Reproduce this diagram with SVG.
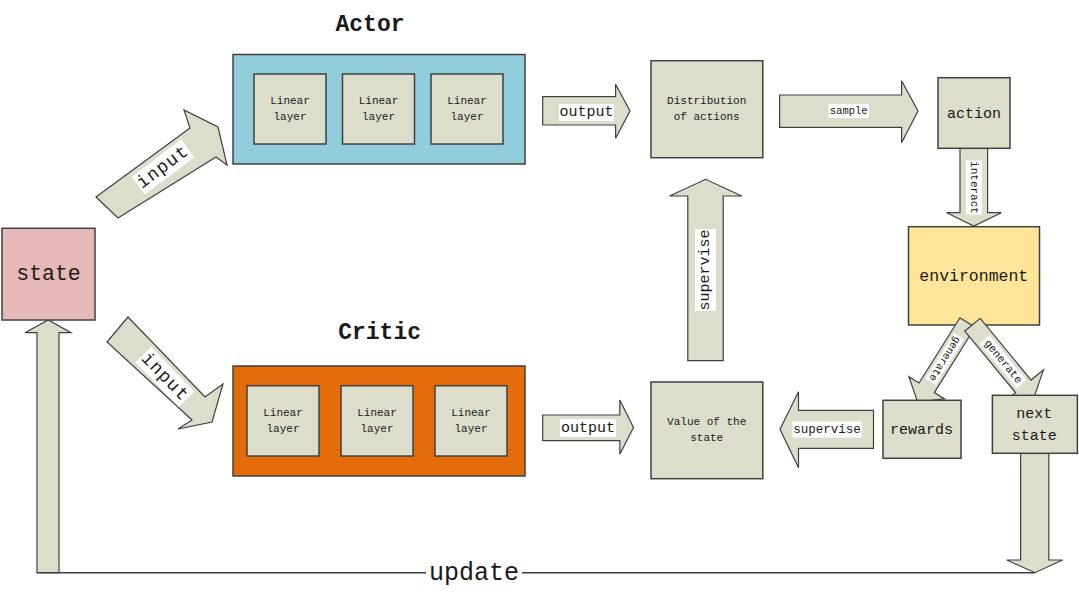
<svg xmlns="http://www.w3.org/2000/svg" width="1079" height="602" viewBox="0 0 1079 602">
<style>
  .box{fill:#dcdecb;stroke:#404040;stroke-width:1.5}
  .arr{fill:#dcdecb;stroke:#404040;stroke-width:1.2;stroke-linejoin:miter}
  .bg{fill:#ffffff}
  text{font-family:"Liberation Mono",monospace;fill:#1a1a1a;text-anchor:middle;dominant-baseline:central}
  .title{font-weight:bold;font-size:23px;dominant-baseline:alphabetic}
  .s11{font-size:11px}
  .s15{font-size:15px}
</style>
<rect x="0" y="0" width="1079" height="602" fill="#ffffff"/>

<!-- connectors -->
<g id="connectors">
  <!-- update loop -->
  <line x1="37" y1="572.7" x2="1035" y2="572.7" stroke="#404040" stroke-width="1.5"/>
  <rect class="bg" x="426" y="558" width="96" height="28"/>
  <text x="474" y="573" style="font-size:25px">update</text>
  <polygon class="arr" points="37,572.7 37,332.7 25,332.7 48.3,320 71,332.7 59,332.7 59,572.7"/>
  <polygon class="arr" points="1020.6,453 1020.6,560 1006.8,560 1035,572.7 1062.5,560 1048.8,560 1048.8,453"/>

  <!-- input arrows -->
  <polygon class="arr" points="96,197 190,128 184,110 218,127 227,165 216,157 118,218"/>
  <g transform="translate(163,167) rotate(-37)">
    <rect class="bg" x="-31" y="-11" width="62" height="22"/>
    <text x="0" y="0" style="font-size:18px;letter-spacing:1.2px">input</text>
  </g>
  <polygon class="arr" points="128,317 205,397 223,384 212,422 178,429 192,420 107,342"/>
  <g transform="translate(165,377) rotate(46)">
    <rect class="bg" x="-31" y="-11" width="62" height="22"/>
    <text x="0" y="0" style="font-size:18px;letter-spacing:1.2px">input</text>
  </g>

  <!-- output arrows -->
  <polygon class="arr" points="542.7,96.7 615.6,96.7 615.6,84.3 630,111 615.6,138.3 615.6,125 542.7,125"/>
  <rect class="bg" x="559" y="104" width="55" height="17"/>
  <text class="s15" x="586.5" y="112">output</text>
  <polygon class="arr" points="542.7,415 619.8,415 619.8,400 633.5,427.5 619.8,454.3 619.8,440.7 542.7,440.7"/>
  <rect class="bg" x="560" y="419" width="56" height="18"/>
  <text class="s15" x="588" y="428">output</text>

  <!-- sample -->
  <polygon class="arr" points="779.6,95 901.6,95 901.6,80.7 918,111 901.6,142.7 901.6,127.3 779.6,127.3"/>
  <rect class="bg" x="828.5" y="104" width="40.5" height="14"/>
  <text x="848.7" y="111" style="font-size:10.5px">sample</text>

  <!-- interact -->
  <polygon class="arr" points="960,148.3 960,212.7 946.7,212.7 973.8,226 1001.3,212.7 987.6,212.7 987.6,148.3"/>
  <g transform="translate(974,187.5) rotate(90)">
    <rect class="bg" x="-27" y="-8" width="54" height="16"/>
    <text class="s11" x="0" y="0">interact</text>
  </g>

  <!-- supervise up -->
  <polygon class="arr" points="687.8,360.7 687.8,196 669.6,196 705.7,179.3 741.8,196 723.2,196 723.2,360.7"/>
  <g transform="translate(705.5,270) rotate(-90)">
    <rect class="bg" x="-41" y="-10.5" width="82" height="21"/>
    <text class="s15" x="0" y="0">supervise</text>
  </g>

  <!-- supervise left -->
  <polygon class="arr" points="873.5,410.3 798.5,410.3 798.5,391.7 780,429.3 798.5,467.7 798.5,448.3 873.5,448.3"/>
  <rect class="bg" x="792.5" y="421.5" width="69" height="16"/>
  <text x="827" y="429.5" style="font-size:12.5px">supervise</text>
</g>

<!-- nodes -->
<g id="actor-title"><text class="title" x="370" y="31">Actor</text></g>
<g id="critic-title"><text class="title" x="379.6" y="339">Critic</text></g>

<g id="actor">
  <rect x="233" y="54.5" width="292" height="109.5" fill="#92cddc" stroke="#404040" stroke-width="1.5"/>
  <g id="actor-l1"><rect class="box" x="254" y="74" width="72" height="70"/>
    <text class="s11" x="290" y="101">Linear</text><text class="s11" x="290" y="117">layer</text></g>
  <g id="actor-l2"><rect class="box" x="342.5" y="74" width="72" height="70"/>
    <text class="s11" x="378.5" y="101">Linear</text><text class="s11" x="378.5" y="117">layer</text></g>
  <g id="actor-l3"><rect class="box" x="431" y="74" width="72" height="70"/>
    <text class="s11" x="467" y="101">Linear</text><text class="s11" x="467" y="117">layer</text></g>
</g>

<g id="critic">
  <rect x="233" y="366" width="292" height="110" fill="#e46c0a" stroke="#404040" stroke-width="1.5"/>
  <g id="critic-l1"><rect class="box" x="247" y="385.7" width="72" height="70.3"/>
    <text class="s11" x="283" y="412.7">Linear</text><text class="s11" x="283" y="429.3">layer</text></g>
  <g id="critic-l2"><rect class="box" x="341" y="385.7" width="72" height="70.3"/>
    <text class="s11" x="377" y="412.7">Linear</text><text class="s11" x="377" y="429.3">layer</text></g>
  <g id="critic-l3"><rect class="box" x="435" y="385.7" width="72" height="70.3"/>
    <text class="s11" x="471" y="412.7">Linear</text><text class="s11" x="471" y="429.3">layer</text></g>
</g>

<g id="state">
  <rect x="2" y="228.3" width="93" height="91.7" fill="#e6b8b7" stroke="#404040" stroke-width="1.5"/>
  <text x="48.5" y="274" style="font-size:21.5px">state</text>
</g>

<g id="distribution">
  <rect class="box" x="651" y="60.7" width="111.8" height="97"/>
  <text class="s11" x="706.7" y="101">Distribution</text>
  <text class="s11" x="706.7" y="117.3">of actions</text>
</g>

<g id="value">
  <rect class="box" x="651" y="382" width="111.8" height="96.7"/>
  <text class="s11" x="706.7" y="421.7">Value of the</text>
  <text class="s11" x="706.7" y="438.3">state</text>
</g>

<g id="action">
  <rect class="box" x="938" y="77.7" width="72" height="70.6"/>
  <text class="s15" x="974" y="114">action</text>
</g>

<g id="environment">
  <rect x="908.5" y="226.7" width="131" height="98.3" fill="#ffe599" stroke="#404040" stroke-width="1.5"/>
  <text x="973.8" y="276" style="font-size:16.5px">environment</text>
</g>

<g id="generate-arrows">
  <g transform="translate(967.5,322.5) rotate(122)">
    <polygon class="arr" points="0,-9 77,-9 77,-21 94,0 77,21 77,9 0,9"/>
    <rect class="bg" x="16" y="-6" width="54" height="12"/>
    <text x="43" y="0" style="font-size:10.5px">generate</text>
  </g>
  <g transform="translate(972.5,324.7) rotate(50.5)">
    <polygon class="arr" points="0,-10 80,-10 80,-26 96,0 80,26 80,10 0,10"/>
    <rect class="bg" x="19" y="-6.5" width="58" height="13"/>
    <text x="48" y="0" style="font-size:11px">generate</text>
  </g>
</g>

<g id="rewards">
  <rect class="box" x="883" y="400.3" width="78" height="58"/>
  <text class="s15" x="921.6" y="430">rewards</text>
</g>

<g id="next-state">
  <rect class="box" x="992.4" y="395.3" width="85" height="58"/>
  <text class="s15" x="1034.3" y="414">next</text>
  <text class="s15" x="1034.3" y="436">state</text>
</g>
</svg>
